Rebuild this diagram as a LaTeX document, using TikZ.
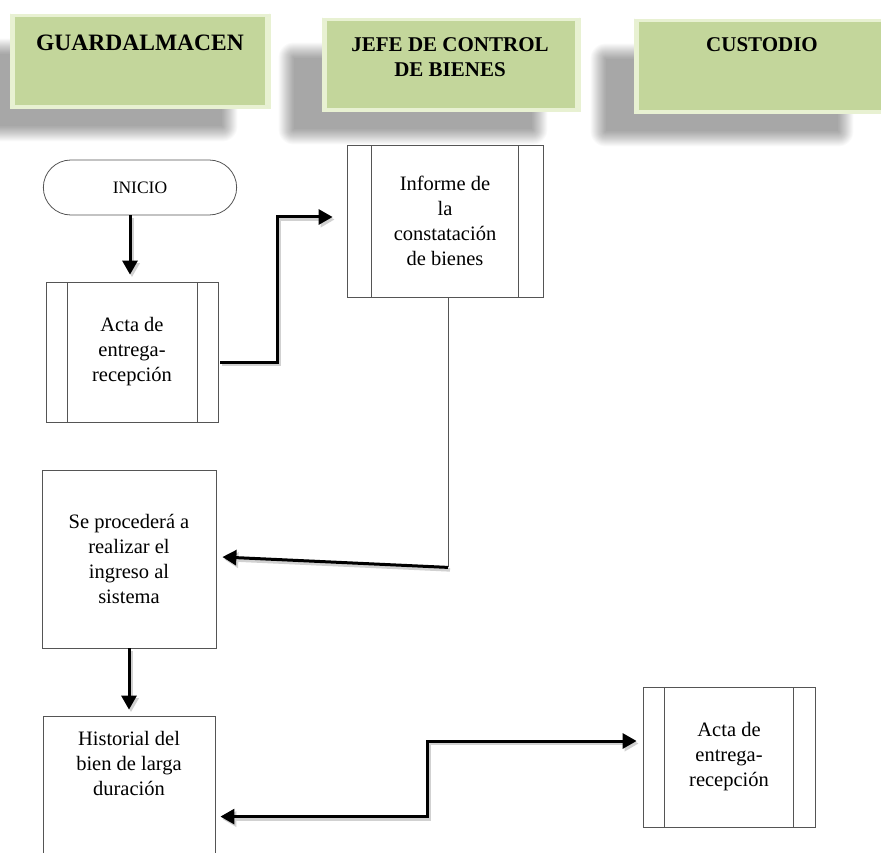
\documentclass[tikz,border=0pt]{standalone}
\usepackage{fontspec}
\setmainfont{Liberation Serif}
\usetikzlibrary{shapes.misc,arrows.meta,backgrounds,calc}
\definecolor{hgreen}{HTML}{C3D69B}
\definecolor{hlight}{HTML}{E8F1D2}
\definecolor{bline}{HTML}{555555}
\begin{document}
\begin{tikzpicture}[x=1pt,y=-1pt,
  header/.style={rectangle, draw=hlight, line width=0.8pt, fill=hlight, inner sep=0pt,
    path picture={\fill[hgreen] ([shift={(5pt,3pt)}]path picture bounding box.south west) rectangle ([shift={(-5pt,-3pt)}]path picture bounding box.north east);
      \draw[white!60!hgreen, line width=0.6pt] (path picture bounding box.south west) -- ([shift={(5pt,3pt)}]path picture bounding box.south west)
        (path picture bounding box.north east) -- ([shift={(-5pt,-3pt)}]path picture bounding box.north east)
        (path picture bounding box.north west) -- ([shift={(5pt,-3pt)}]path picture bounding box.north west)
        (path picture bounding box.south east) -- ([shift={(-5pt,3pt)}]path picture bounding box.south east);}},
  headtext/.style={font=\fontsize{21}{25.5}\selectfont\bfseries, align=center, inner sep=0pt},
  box/.style={rectangle, draw=bline, line width=0.8pt, fill=white, inner sep=0pt, align=center,
    font=\fontsize{20.5}{25}\selectfont},
  procbox/.style={box, path picture={
    \draw[bline, line width=0.8pt] ([xshift=#1]path picture bounding box.south west) -- ([xshift=#1]path picture bounding box.north west)
      ([xshift=-#1]path picture bounding box.south east) -- ([xshift=-#1]path picture bounding box.north east);}},
  shadowlayer/.style={fill=black, opacity=0.024},
  arrshadow/.style={preaction={draw=black!18, line width=3.5pt, transform canvas={shift={(2pt,-2.5pt)}}}},
  arr/.style={line width=3pt, arrshadow, -{Triangle[width=15pt,length=14pt]}},
  darr/.style={line width=3pt, arrshadow, {Triangle[width=15pt,length=14pt]}-{Triangle[width=15pt,length=14pt]}},
]
\useasboundingbox (0,0) rectangle (881,853);

% headers
\node[header, minimum width=260pt, minimum height=94pt] (hg) at (140,61) {};
\node[header, minimum width=258pt, minimum height=93pt] (hj) at (451,64.5) {};
\node[header, minimum width=252pt, minimum height=94pt] (hc) at (760,66) {};
\node[headtext, font=\fontsize{23.5}{25.5}\selectfont\bfseries, anchor=base] (tg) at (140,51) {GUARDALMACEN};
\node[headtext] (tj) at (450,57) {JEFE DE CONTROL\\DE BIENES};
\node[headtext, anchor=base] (tc) at (762,52) {CUSTODIO};

\begin{scope}[on background layer]
  \fill[white] (0,0) rectangle (881,853);
  \foreach \n in {hg,hj,hc}{
    \foreach \r in {15,14,...,0}{
      \fill[shadowlayer, rounded corners=\r pt]
        ($(\n.north west)+(-28-\r,40-\r)$) rectangle ($(\n.south east)+(-48+\r,18+\r)$);
    }
  }
\end{scope}

% flow nodes
\node[rounded rectangle, draw=bline, line width=0.8pt, minimum width=200pt, minimum height=55pt,
      font=\fontsize{17.5}{20}\selectfont] (inicio) at (140,187.5) {INICIO};
\node[procbox=21pt, minimum width=172pt, minimum height=140pt] (acta1) at (132,352) {Acta de\\entrega-\\recepción};
\node[procbox=24.5pt, minimum width=196pt, minimum height=152pt] (informe) at (445,221) {Informe de\\la\\constatación\\de bienes};
\node[box, minimum width=174pt, minimum height=178pt] (proc) at (129,559) {Se procederá a\\realizar el\\ingreso al\\sistema};
\node[box, minimum width=172pt, minimum height=150pt] (hist) at (129,791) {};
\node[align=center, inner sep=0pt, font=\fontsize{20.5}{25}\selectfont] (histtext) at (129,763) {Historial del\\bien de larga\\duración};
\node[procbox=21.5pt, minimum width=172pt, minimum height=140pt] (custacta) at (729,757) {Acta de\\entrega-\\recepción};

% connectors
\draw[arr] ($(inicio.south -| acta1.north)+(-2,0)$) -- ($(acta1.north)+(-2,-7)$);
\draw[arr] ($(acta1.east)+(2,10)$) -- ++(57,0) |- ($(informe.west)+(-14,-4)$);
\draw[bline, line width=0.8pt] ($(informe.south)+(3,0)$) -- ++(0,270) coordinate (bend);
\draw[arr] (bend) -- ($(proc.east)+(6,-2)$);
\draw[arr] (proc.south) -- ($(hist.north)+(0,-6)$);
\draw[darr] ($(hist.north east)+(5,101)$) -- ++(207,0) |- ($(custacta.west)+(-6,-16)$);
\end{tikzpicture}
\end{document}
